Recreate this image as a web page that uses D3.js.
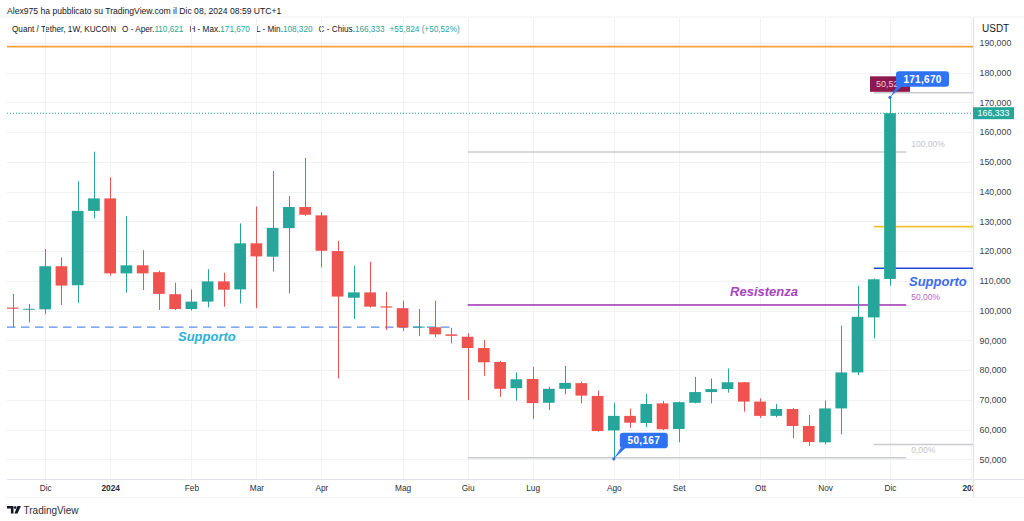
<!DOCTYPE html>
<html><head><meta charset="utf-8">
<script src="https://cdn.jsdelivr.net/npm/d3@7"></script>
<style>html,body{margin:0;padding:0;background:#fff;overflow:hidden}svg{display:block;font-family:"Liberation Sans",Arial,sans-serif}</style>
</head><body><svg id="c" width="1024" height="521"></svg>
<script>
// ---------- DATA ----------
const weeks = ["2023-11-20","2023-11-27","2023-12-04","2023-12-11","2023-12-18","2023-12-25",
"2024-01-01","2024-01-08","2024-01-15","2024-01-22","2024-01-29",
"2024-02-05","2024-02-12","2024-02-19","2024-02-26",
"2024-03-04","2024-03-11","2024-03-18","2024-03-25",
"2024-04-01","2024-04-08","2024-04-15","2024-04-22","2024-04-29",
"2024-05-06","2024-05-13","2024-05-20","2024-05-27",
"2024-06-03","2024-06-10","2024-06-17","2024-06-24",
"2024-07-01","2024-07-08","2024-07-15","2024-07-22","2024-07-29",
"2024-08-05","2024-08-12","2024-08-19","2024-08-26",
"2024-09-02","2024-09-09","2024-09-16","2024-09-23","2024-09-30",
"2024-10-07","2024-10-14","2024-10-21","2024-10-28",
"2024-11-04","2024-11-11","2024-11-18","2024-11-25","2024-12-02"];
const open  = [101.0,100.4,100.4,114.9,108.5,133.5,137.7,112.5,115.2,112.9,105.5,100.5,103.0,109.8,107.1,122.6,118.1,127.7,134.8,132.0,120.0,104.3,106.1,101.4,100.8,94.4,94.4,92.0,91.2,87.4,82.7,73.9,77.0,69.0,73.7,75.6,71.3,59.7,64.6,62.2,68.8,60.2,69.0,72.6,73.6,75.9,69.4,64.6,66.9,61.2,55.7,67.1,79.2,97.7,110.621];
const high  = [105.6,102.2,120.7,117.9,143.4,153.4,144.8,131.8,120.3,113.4,109.4,107.1,113.9,112.7,129.3,135.0,146.9,138.5,151.3,133.0,123.4,115.1,116.4,106.3,103.3,100.5,103.3,94.2,92.4,90.1,83.1,79.2,81.1,74.4,81.4,76.1,73.1,69.0,67.0,72.0,69.6,69.4,77.7,77.2,80.5,76.0,70.5,68.6,67.2,64.9,69.8,94.9,108.3,110.8,171.670];
const low   = [94.4,96.0,98.8,101.9,102.6,131.0,111.7,106.0,106.9,100.2,100.2,100.0,101.1,101.3,102.4,100.8,113.1,105.8,131.8,114.5,77.2,97.2,101.0,93.5,93.1,91.4,91.0,89.0,69.9,78.1,71.0,69.7,63.6,66.6,71.9,68.8,59.3,50.167,60.6,60.8,59.8,55.7,68.8,68.8,72.4,66.0,63.9,64.1,57.1,54.5,55.0,58.4,78.3,90.7,108.320];
const close = [100.6,100.6,114.9,108.4,133.5,137.7,112.5,115.2,112.5,105.6,100.5,103.0,109.8,107.0,122.6,118.2,127.8,134.8,132.2,120.1,104.7,106.1,101.3,101.0,94.3,94.6,92.0,91.5,87.4,82.6,73.7,76.9,68.9,73.7,75.7,71.4,59.5,64.6,62.3,68.6,60.1,69.2,72.6,73.6,75.9,69.4,64.6,66.9,61.2,55.8,67.1,79.2,97.9,110.509,166.333];

const priceTicks = [50,60,70,80,90,100,110,120,130,140,150,160,170,180,190];
const monthTicks = ["2023-12-04","2024-01-01","2024-02-05","2024-03-04","2024-04-01","2024-05-06","2024-06-03","2024-07-01","2024-08-05","2024-09-02","2024-10-07","2024-11-04","2024-12-02","2025-01-06"];
const monthLabels = ["Dic","2024","Feb","Mar","Apr","Mag","Giu","Lug","Ago","Set","Ott","Nov","Dic","2025"];
const boldLabels = ["2024","2025"];

// drawn levels
const orangeLevel = 188.7;
const dashedSupport = 94.4;
const fibHigh = 153.3, fibLow = 50.5;
const fibRange = ["2024-06-03","2024-12-09"];
const rightLevels = [{v:173.2,c:"#c9cbd0"},{v:128.2,c:"#f2c232"},{v:114.2,c:"#2446d8"},{v:55.0,c:"#c9cbd0"}];
const rightLevelStart = "2024-11-25";

// ---------- SETUP ----------
const parse = d3.utcParse("%Y-%m-%d");
const it = d3.formatLocale({decimal:",",thousands:".",grouping:[3],currency:["€",""]});
const f3 = it.format(".3f"), f2 = it.format(".2f");
const data = weeks.map((w,i)=>({d:parse(w),o:open[i],h:high[i],l:low[i],c:close[i]}));

const L=7, R=973, T=17, B=479;
const x = d3.scaleUtc().domain([parse(weeks[0]), parse(weeks[weeks.length-1])]).range([12.7, 890]);
const y = d3.scaleLinear().domain([50,190]).range([459.3, 42.8]);
const bw = (x(parse(weeks[1]))-x(parse(weeks[0])))*0.72;

const svg = d3.select("#c");
const GREEN="#26a69a", RED="#ef5350", BLUE="#2f73f5";

// header
svg.append("text").attr("x",7).attr("y",13.5).attr("font-size",8.6).attr("fill","#131722")
  .text("Alex975 ha pubblicato su TradingView.com il Dic 08, 2024 08:59 UTC+1");
svg.append("line").attr("x1",0).attr("x2",1024).attr("y1",17).attr("y2",17).attr("stroke","#eef0f3");

const n = close.length-1;
const chg = close[n]-close[n-1], pct = chg/close[n-1]*100;
const hdr = [
  {t:"Quant / Tether, 1W, KUCOIN",dx:0,c:"#131722"},
  {t:"O - Aper.",dx:6,c:"#131722"},{t:f3(open[n]),dx:0,c:GREEN},
  {t:"H - Max.",dx:6,c:"#131722"},{t:f3(high[n]),dx:0,c:GREEN},
  {t:"L - Min.",dx:6,c:"#131722"},{t:f3(low[n]),dx:0,c:GREEN},
  {t:"C - Chius.",dx:6,c:"#131722"},{t:f3(close[n]),dx:0,c:GREEN},
  {t:"+"+f3(chg)+" (+"+f2(pct)+"%)",dx:5,c:GREEN}];
svg.append("text").attr("x",12).attr("y",31.5).attr("font-size",8.2)
  .selectAll("tspan").data(hdr).join("tspan")
  .attr("dx",d=>d.dx).attr("fill",d=>d.c).text(d=>d.t);

// clip
svg.append("clipPath").attr("id","plot").append("rect").attr("x",L).attr("y",T+1).attr("width",R-L).attr("height",B-T-1);
svg.append("clipPath").attr("id","xax").append("rect").attr("x",0).attr("y",480).attr("width",R).attr("height",18);
svg.append("clipPath").attr("id","yax").append("rect").attr("x",R).attr("y",39).attr("width",1024-R).attr("height",B-39);

const plot = svg.append("g").attr("clip-path","url(#plot)");
// grid
plot.append("g").selectAll("line").data(priceTicks).join("line")
  .attr("x1",L).attr("x2",R).attr("y1",d=>Math.round(y(d))+0.5).attr("y2",d=>Math.round(y(d))+0.5)
  .attr("stroke","#f0f2f6");
plot.append("g").selectAll("line").data(monthTicks.map(parse)).join("line")
  .attr("x1",d=>Math.round(x(d))+0.5).attr("x2",d=>Math.round(x(d))+0.5).attr("y1",T).attr("y2",B)
  .attr("stroke","#f0f2f6");

// orange line
plot.append("line").attr("x1",L).attr("x2",R).attr("y1",y(orangeLevel)).attr("y2",y(orangeLevel))
  .attr("stroke","#f5a23a").attr("stroke-width",1.6);
// current price dotted
plot.append("line").attr("x1",L).attr("x2",R).attr("y1",y(close[n])).attr("y2",y(close[n]))
  .attr("stroke",GREEN).attr("stroke-dasharray","1,2").attr("stroke-width",1);
// dashed support
plot.append("line").attr("x1",L).attr("x2",x(parse("2024-05-27"))).attr("y1",y(dashedSupport)).attr("y2",y(dashedSupport))
  .attr("stroke","#5a8ee8").attr("stroke-width",1.3).attr("stroke-dasharray","8.5,5.5");

// fib
const fibLevels = [{p:100,v:fibHigh,c:"#c9cbd0",tc:"#c2c4c8"},{p:50,v:(fibHigh+fibLow)/2,c:"#9c2fb0",tc:"#b369c4"},{p:0,v:fibLow,c:"#c9cbd0",tc:"#c2c4c8"}];
const fx0 = x(parse(fibRange[0])), fx1 = x(parse(fibRange[1]));
plot.append("g").selectAll("line").data(fibLevels).join("line")
  .attr("x1",fx0).attr("x2",fx1).attr("y1",d=>y(d.v)).attr("y2",d=>y(d.v))
  .attr("stroke",d=>d.c).attr("stroke-width",1.5);
plot.append("g").selectAll("text").data(fibLevels).join("text")
  .attr("x",fx1+5).attr("y",d=>y(d.v)-4.5).attr("font-size",8.5).attr("fill",d=>d.tc)
  .text(d=>f2(d.p)+"%");

// right levels
const rx0 = x(parse(rightLevelStart));
plot.append("g").selectAll("line").data(rightLevels).join("line")
  .attr("x1",rx0).attr("x2",R).attr("y1",d=>y(d.v)).attr("y2",d=>y(d.v))
  .attr("stroke",d=>d.c).attr("stroke-width",1.6);

// candles
const cg = plot.append("g");
cg.selectAll("line").data(data).join("line")
  .attr("x1",d=>Math.round(x(d.d))+0.5).attr("x2",d=>Math.round(x(d.d))+0.5)
  .attr("y1",d=>y(d.h)).attr("y2",d=>y(d.l))
  .attr("stroke",d=>d.c>=d.o?GREEN:RED).attr("stroke-width",1);
cg.selectAll("rect").data(data).join("rect")
  .attr("x",d=>x(d.d)-bw/2).attr("width",bw)
  .attr("y",d=>y(Math.max(d.o,d.c))).attr("height",d=>Math.max(1,Math.abs(y(d.o)-y(d.c))))
  .attr("fill",d=>d.c>=d.o?GREEN:RED);

// text annotations
const ann = plot.append("g").attr("font-weight","bold").attr("font-style","italic").attr("font-size",13);
ann.append("text").attr("x",764).attr("y",296).attr("text-anchor","middle")
  .attr("fill","#a944c0").text("Resistenza");
ann.append("text").attr("x",909).attr("y",286).attr("fill","#3a6cee").text("Supporto");
ann.append("text").attr("x",178).attr("y",341).attr("fill","#2bb0d8").text("Supporto");

// callouts
function callout(g, px, py, w, label, color){
  g.append("path").attr("d",`M${px},${py} L${px+7},${py-11} L${px+12},${py-11} Z`).attr("fill",color);
  g.append("circle").attr("cx",px).attr("cy",py).attr("r",1.6).attr("fill",color);
  g.append("rect").attr("x",px+6).attr("y",py-26).attr("width",w).attr("height",15.5).attr("rx",3).attr("fill",color);
  g.append("text").attr("x",px+6+w/2).attr("y",py-14.6).attr("text-anchor","middle").attr("font-size",10)
    .attr("font-weight","bold").attr("fill","#fff").attr("letter-spacing",0.3).text(label);
}
const cgp = svg.append("g");
const hx = x(data[n].d), hy = y(high[n]);
cgp.append("rect").attr("x",hx-20).attr("y",hy-21).attr("width",40).attr("height",15.5).attr("fill","#8c1a4d");
cgp.append("text").attr("x",hx-14).attr("y",hy-10).attr("font-size",9).attr("fill","#f1c9d8").text(f2(pct)+"%");
callout(cgp, hx, hy, 53, f3(high[n]), BLUE);
const li = low.indexOf(d3.min(low));
callout(cgp, x(data[li].d), y(low[li]), 48, f3(low[li]), BLUE);

// axes frame
svg.append("line").attr("x1",R+0.5).attr("x2",R+0.5).attr("y1",T).attr("y2",498).attr("stroke","#e0e3eb");
svg.append("line").attr("x1",L).attr("x2",1024).attr("y1",479.5).attr("y2",479.5).attr("stroke","#e0e3eb");
svg.append("line").attr("x1",L).attr("x2",1024).attr("y1",497.5).attr("y2",497.5).attr("stroke","#f0f2f5");

// x axis
const xa = svg.append("g").attr("clip-path","url(#xax)").append("g").attr("transform","translate(0,480)")
  .call(d3.axisBottom(x).tickValues(monthTicks.map(parse)).tickSize(0).tickPadding(5)
    .tickFormat((d,i)=>monthLabels[i]));
xa.select(".domain").remove();
xa.selectAll("text").attr("font-size",8.3).attr("fill","#2a2e39").attr("font-family","'Liberation Sans Narrow','Liberation Sans',Arial,sans-serif")
  .attr("font-weight",d=>boldLabels.includes(monthLabels[monthTicks.map(parse).findIndex(t=>+t===+d)])?"bold":"normal");

// y axis
const ya = svg.append("g").attr("clip-path","url(#yax)").append("g").attr("transform",`translate(${R},0)`)
  .call(d3.axisRight(y).tickValues(priceTicks).tickSize(0).tickPadding(6.5).tickFormat(f3));
ya.select(".domain").remove();
ya.selectAll("text").attr("font-size",8.8).attr("fill","#3b3f48").attr("font-family","'Liberation Sans',Arial,sans-serif");

svg.append("text").attr("x",982).attr("y",32).attr("font-size",10).attr("fill","#131722").text("USDT");

// current price label
const cy = y(close[n]);
svg.append("rect").attr("x",R).attr("y",cy-6).attr("width",41).attr("height",12).attr("fill",GREEN);
svg.append("text").attr("x",R+20.5).attr("y",cy+3.2).attr("text-anchor","middle").attr("font-size",8.8).attr("fill","#fff").text(f3(close[n]));

// logo
const lg = svg.append("g").attr("fill","#131722");
lg.append("path").attr("d","M7,506 h6.5 v7.5 h-2.6 v-5 h-3.9 Z");
lg.append("circle").attr("cx",15.2).attr("cy",507.6).attr("r",1.3);
lg.append("path").attr("d","M17.5,506 h3.4 l-3.4,7.5 h-3.1 Z");
svg.append("text").attr("x",23.5).attr("y",513.5).attr("font-size",10).attr("fill","#2a2e39").text("TradingView");
</script></body></html>
